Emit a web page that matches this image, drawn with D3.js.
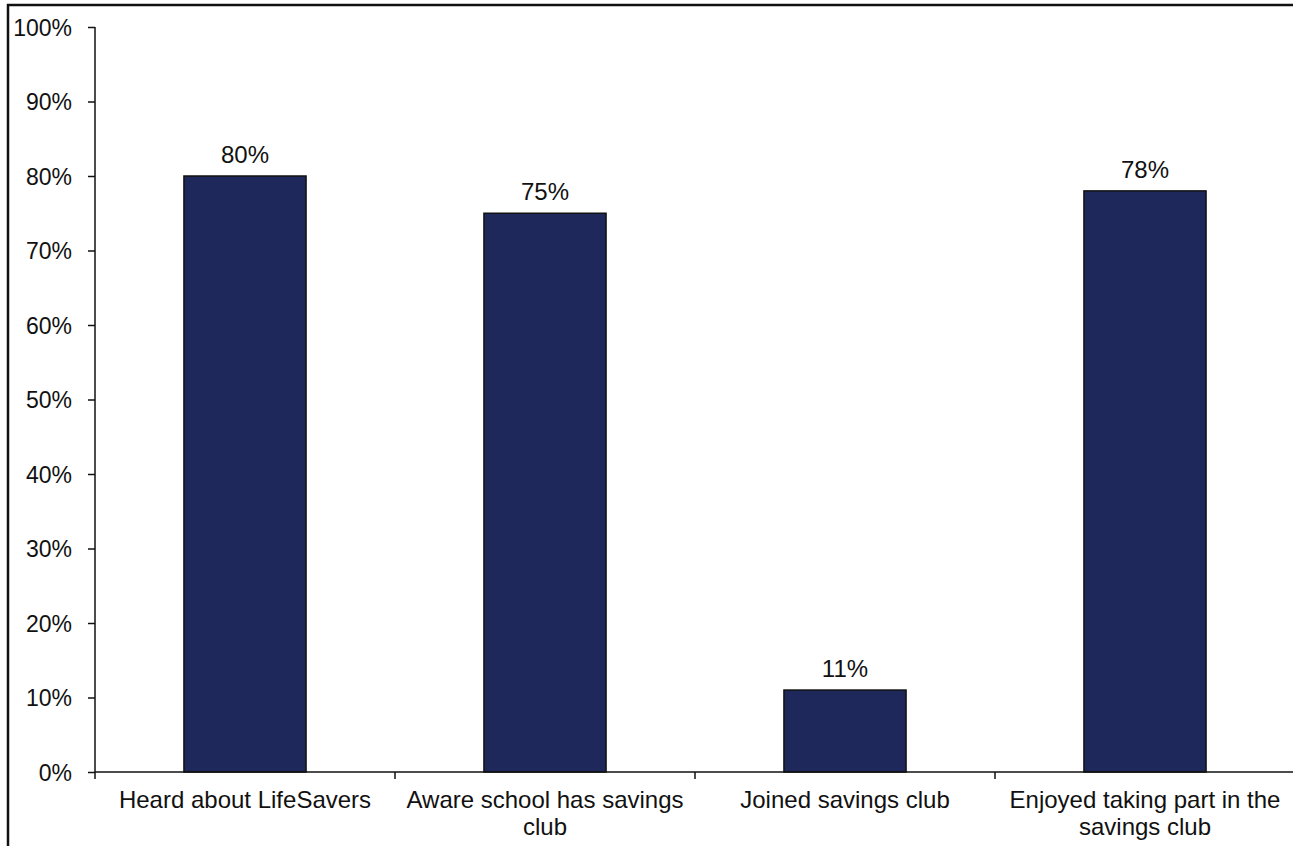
<!DOCTYPE html>
<html>
<head>
<meta charset="utf-8">
<script src="https://cdn.jsdelivr.net/npm/d3@7/dist/d3.min.js"></script>
<style>
  html, body { margin: 0; padding: 0; background: #fff; }
  svg { display: block; }
  text { font-family: "Liberation Sans", Arial, sans-serif; fill: #111; }
</style>
</head>
<body>
<svg id="chart" width="1293" height="846"></svg>
<script>
// Survey results: share of pupils for each statement
const categories = [
  "Heard about LifeSavers",
  "Aware school has savings club",
  "Joined savings club",
  "Enjoyed taking part in the savings club"
];
const values = [0.80, 0.75, 0.11, 0.78];
const yTicks = [0, 0.1, 0.2, 0.3, 0.4, 0.5, 0.6, 0.7, 0.8, 0.9, 1.0];

const svg = d3.select("#chart");
const W = 1293, H = 846;
const margin = { left: 95, top: 27, right: -2, bottom: 74 };
const plotW = W - margin.left - margin.right;
const plotH = H - margin.top - margin.bottom;
const labelSize = 24;

// outer frame (runs past the right and bottom edges)
svg.append("rect")
  .attr("x", 8).attr("y", 5)
  .attr("width", W + 10).attr("height", H + 10)
  .attr("fill", "none")
  .attr("stroke", "#111")
  .attr("stroke-width", 2.5);

const g = svg.append("g").attr("transform", `translate(${margin.left},${margin.top})`);

const x = d3.scaleBand().domain(categories).range([0, plotW]).paddingInner(0.593).paddingOuter(0.2965);
const xEdges = d3.scaleBand().domain(categories).range([0, plotW]).padding(0);
const y = d3.scaleLinear().domain([0, 1]).range([plotH, 0]);

// bars
g.selectAll("rect.bar")
  .data(values)
  .join("rect")
  .attr("class", "bar")
  .attr("x", (d, i) => x(categories[i]))
  .attr("y", d => y(d))
  .attr("width", x.bandwidth())
  .attr("height", d => y(0) - y(d))
  .attr("fill", "#1f285a")
  .attr("stroke", "#111")
  .attr("stroke-width", 1.5);

// value labels
g.selectAll("text.val")
  .data(values)
  .join("text")
  .attr("class", "val")
  .attr("x", (d, i) => x(categories[i]) + x.bandwidth() / 2)
  .attr("y", d => y(d) - 13)
  .attr("text-anchor", "middle")
  .attr("font-size", labelSize)
  .text(d => d3.format(".0%")(d));

// y axis
const yAxis = d3.axisLeft(y).tickValues(yTicks).tickFormat(d3.format(".0%")).tickSize(7).tickPadding(16);
const ya = g.append("g").call(yAxis);
ya.select(".domain").attr("stroke", "#111").attr("stroke-width", 1.5).attr("d", `M0,0V${plotH}`);
ya.selectAll(".tick line").attr("stroke", "#111").attr("stroke-width", 1.5);
ya.selectAll(".tick text").attr("font-size", 23).attr("font-family", "Liberation Sans, Arial, sans-serif").attr("fill", "#111").attr("dy", "0.35em");

// x axis: ticks at category boundaries
const bounds = categories.map(c => xEdges(c)).concat([plotW]);
const xa = g.append("g").attr("transform", `translate(0,${plotH})`);
xa.append("line").attr("x1", 0).attr("x2", plotW).attr("y1", 0).attr("y2", 0)
  .attr("stroke", "#111").attr("stroke-width", 1.5);
xa.selectAll("line.tk").data(bounds).join("line").attr("class", "tk")
  .attr("x1", d => d).attr("x2", d => d).attr("y1", 0).attr("y2", 7)
  .attr("stroke", "#111").attr("stroke-width", 1.5);

// category labels, wrapped to the band width
function wrapLines(text, maxW, size) {
  const ctx = document.createElement("canvas").getContext("2d");
  ctx.font = `${size}px "Liberation Sans", Arial, sans-serif`;
  const words = text.split(" ");
  const lines = [];
  let cur = "";
  words.forEach(w => {
    const t = cur ? cur + " " + w : w;
    if (ctx.measureText(t).width > maxW && cur) { lines.push(cur); cur = w; }
    else cur = t;
  });
  if (cur) lines.push(cur);
  return lines;
}
categories.forEach(c => {
  const lines = wrapLines(c, xEdges.bandwidth() - 6, labelSize);
  const t = xa.append("text")
    .attr("text-anchor", "middle")
    .attr("font-size", labelSize)
    .attr("x", xEdges(c) + xEdges.bandwidth() / 2)
    .attr("y", 36);
  lines.forEach((l, i) => {
    t.append("tspan").attr("x", xEdges(c) + xEdges.bandwidth() / 2).attr("dy", i === 0 ? 0 : 27).text(l);
  });
});
</script>
</body>
</html>
